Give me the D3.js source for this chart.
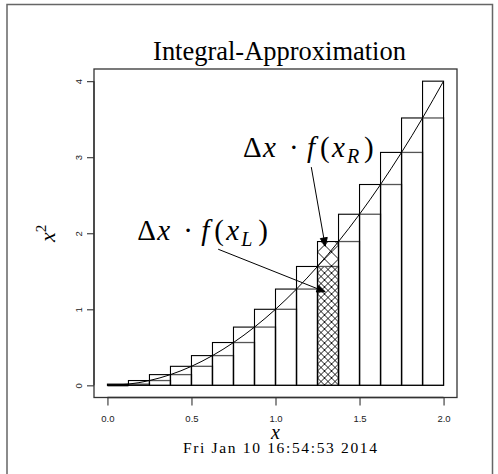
<!DOCTYPE html>
<html>
<head>
<meta charset="utf-8">
<script src="https://cdn.jsdelivr.net/npm/d3@7"></script>
<style>
  body { margin: 0; background: #fff; }
  svg { display: block; }
</style>
</head>
<body>
<svg id="chart" width="498" height="474"></svg>
<script>

// Data
var breaks  = [0, 0.125, 0.25, 0.375, 0.5, 0.625, 0.75, 0.875, 1, 1.125, 1.25, 1.375, 1.5, 1.625, 1.75, 1.875, 2];
var heights = [0, 0.016, 0.063, 0.141, 0.25, 0.391, 0.563, 0.766, 1, 1.266, 1.563, 1.891, 2.25, 2.641, 3.063, 3.516, 4];
var xTicks = [0, 0.5, 1, 1.5, 2];
var yTicks = [0, 1, 2, 3, 4];
var hatchIdx = 10; // bar starting at 1.25

// annotation text positions and arrows (data units)
var labels = [
  { x: 1.2,  y: 3.1, sub: "R" },
  { x: 0.57, y: 2.0, sub: "L" }
];
var arrows = [
  { x0: 1.213, y0: 2.87, x1: 1.296, y1: 1.83 },
  { x0: 0.659, y0: 1.79, x1: 1.296, y1: 1.23 }
];

var svg = d3.select("#chart");
var serif = "'Liberation Serif', 'Times New Roman', serif";
var sans = "'Liberation Sans', Arial, sans-serif";

var x = d3.scaleLinear().domain([-0.08, 2.08]).range([94, 457]);
var y = d3.scaleLinear().domain([-0.16, 4.16]).range([397.5, 69]);

// outer frame (page border)
svg.append("path")
  .attr("d", "M7,474 L7,4.5 L492.5,4.5 L492.5,474")
  .attr("fill", "none").attr("stroke", "#666").attr("stroke-width", 1.5);

// hatch patterns
var defs = svg.append("defs");
function hatch(id, off) {
  var p = defs.append("pattern").attr("id", id)
    .attr("patternUnits", "userSpaceOnUse")
    .attr("x", x(breaks[hatchIdx]) + off).attr("y", 0)
    .attr("width", 14).attr("height", 14);
  p.append("path").attr("d", "M-1,-1 L15,15 M-1,15 L15,-1 M-8,6 L6,-8 M8,22 L22,8 M6,22 L-8,8 M22,6 L8,-8")
    .attr("stroke", "#000").attr("stroke-width", 0.9).attr("fill", "none");
}
hatch("hatchR", 0);
hatch("hatchL", 7);

var plot = svg.append("g");
var bars = d3.range(breaks.length - 1);

// left sums (grey tops), drawn first
plot.selectAll(".left").data(bars).enter().append("rect")
  .attr("class", "left")
  .attr("x", function (i) { return x(breaks[i]); })
  .attr("width", function (i) { return x(breaks[i + 1]) - x(breaks[i]); })
  .attr("y", function (i) { return y(heights[i]); })
  .attr("height", function (i) { return y(0) - y(heights[i]); })
  .attr("fill", function (i) { return i == hatchIdx ? "url(#hatchL)" : "none"; })
  .attr("stroke", "#555").attr("stroke-width", 1.3);

// right sums
plot.selectAll(".right").data(bars).enter().append("rect")
  .attr("class", "right")
  .attr("x", function (i) { return x(breaks[i]); })
  .attr("width", function (i) { return x(breaks[i + 1]) - x(breaks[i]); })
  .attr("y", function (i) { return y(heights[i + 1]); })
  .attr("height", function (i) { return y(0) - y(heights[i + 1]); })
  .attr("fill", function (i) { return i == hatchIdx ? "url(#hatchR)" : "none"; })
  .attr("stroke", "#000").attr("stroke-width", 1.1);

// zero-height first left bar shows as thick line
plot.append("line")
  .attr("x1", x(breaks[0])).attr("x2", x(breaks[1]))
  .attr("y1", y(0)).attr("y2", y(0))
  .attr("stroke", "#000").attr("stroke-width", 2);

// curve
var line = d3.line()
  .x(function (d, i) { return x(breaks[i]); })
  .y(function (d) { return y(d); })
  .curve(d3.curveNatural);
plot.append("path").datum(heights)
  .attr("d", line).attr("fill", "none")
  .attr("stroke", "#000").attr("stroke-width", 1);

// plot box
svg.append("rect")
  .attr("x", 94).attr("y", 69).attr("width", 363).attr("height", 328.5)
  .attr("fill", "none").attr("stroke", "#333").attr("stroke-width", 1.3);

// axes
var xAxis = svg.append("g").attr("transform", "translate(0,397.5)")
  .call(d3.axisBottom(x).tickValues(xTicks).tickSize(8).tickPadding(10)
    .tickFormat(d3.format(".1f")));
var yAxis = svg.append("g").attr("transform", "translate(94,0)")
  .call(d3.axisLeft(y).tickValues(yTicks).tickSize(7).tickPadding(0)
    .tickFormat(d3.format("d")));
[xAxis, yAxis].forEach(function (a) {
  a.select(".domain").attr("stroke", "#333").attr("stroke-width", 1.3);
  a.selectAll(".tick line").attr("stroke", "#333").attr("stroke-width", 1.1);
  a.selectAll("text").attr("font-family", sans).attr("font-size", 9.5).attr("fill", "#222");
});
xAxis.select(".domain").attr("d", "M" + x(0) + ",0H" + x(2));
yAxis.select(".domain").attr("d", "M0," + y(0) + "V" + y(4));
yAxis.selectAll(".tick text")
  .attr("x", null).attr("dy", null)
  .attr("text-anchor", "middle")
  .attr("transform", "translate(-15,0) rotate(-90)")
  .attr("dy", "0.35em");

// fit text to a target width by scaling its font size
function fitWidth(t, w) {
  var cur = t.node().getComputedTextLength();
  var fs = parseFloat(t.attr("font-size"));
  t.attr("font-size", fs * w / cur);
}

// title
var title = svg.append("text")
  .attr("x", 279.5).attr("y", 60)
  .attr("text-anchor", "middle")
  .attr("font-family", serif).attr("font-size", 25)
  .text("Integral-Approximation");
fitWidth(title, 253);

// x label
svg.append("text")
  .attr("x", x(1)).attr("y", 439)
  .attr("text-anchor", "middle")
  .attr("font-family", serif).attr("font-style", "italic").attr("font-size", 20)
  .text("x");

// date line
svg.append("text")
  .attr("x", 280).attr("y", 453)
  .attr("text-anchor", "middle")
  .attr("font-family", serif).attr("font-size", 15.5)
  .attr("textLength", 194).attr("lengthAdjust", "spacing")
  .text("Fri Jan 10 16:54:53 2014");

// y label x^2
var yl = svg.append("text")
  .attr("transform", "translate(55," + y(2) + ") rotate(-90)")
  .attr("text-anchor", "middle")
  .attr("font-family", serif).attr("font-size", 22);
yl.append("tspan").attr("font-style", "italic").text("x");
yl.append("tspan").attr("font-size", 15).attr("dy", -9).text("2");

// annotation labels: glyph offsets mimic TeX math spacing
var pieces = [
  { t: "\u0394", dx: 0,   it: false },
  { t: "x",      dx: 20,  it: true },
  { t: "\u00b7", dx: 46,  it: false },
  { t: "f",      dx: 64,  it: true },
  { t: "(",      dx: 77,  it: false },
  { t: "x",      dx: 89,  it: true },
  { t: "",       dx: 104, it: true, sub: true },
  { t: ")",      dx: 121, it: false }
];
labels.forEach(function (l) {
  var left = x(l.x) - 66, base = y(l.y) + 7;
  var g = svg.append("text")
    .attr("font-family", serif).attr("font-size", 29);
  pieces.forEach(function (p) {
    g.append("tspan")
      .attr("x", left + p.dx)
      .attr("y", p.sub ? base + 6 : base)
      .attr("font-style", p.it ? "italic" : null)
      .attr("font-size", p.sub ? 20 : null)
      .text(p.sub ? l.sub : p.t);
  });
});

// arrows
arrows.forEach(function (a) {
  var x0 = x(a.x0), y0 = y(a.y0), x1 = x(a.x1), y1 = y(a.y1);
  svg.append("line")
    .attr("x1", x0).attr("y1", y0).attr("x2", x1).attr("y2", y1)
    .attr("stroke", "#000").attr("stroke-width", 1);
  var ang = Math.atan2(y1 - y0, x1 - x0), len = 9, spread = 0.4;
  var p1 = [x1 - len * Math.cos(ang - spread), y1 - len * Math.sin(ang - spread)];
  var p2 = [x1 - len * Math.cos(ang + spread), y1 - len * Math.sin(ang + spread)];
  svg.append("path")
    .attr("d", "M" + p1 + "L" + [x1, y1] + "L" + p2 + "Z")
    .attr("fill", "#000").attr("stroke", "#000").attr("stroke-width", 1);
});

</script>
</body>
</html>
